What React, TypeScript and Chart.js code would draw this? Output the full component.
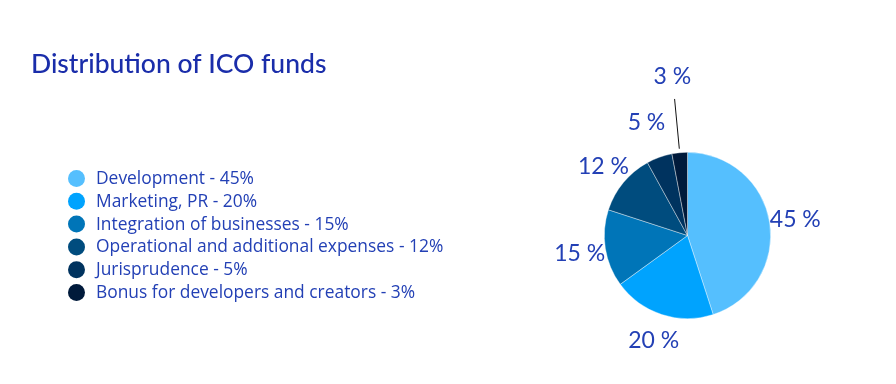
import React, { useEffect, useRef } from "react";
import { Chart, registerables } from "chart.js";

Chart.register(...registerables);

const TITLE = "Distribution of ICO funds";
const categories = [
  "Development",
  "Marketing, PR",
  "Integration of businesses",
  "Operational and additional expenses",
  "Jurisprudence",
  "Bonus for developers and creators",
];
const shares = [45, 20, 15, 12, 5, 3];
const sliceColors = ["#55BFFE", "#00A3FE", "#0075B8", "#004C7E", "#00335F", "#001A3B"];

const FONT = "Lato, 'Open Sans', sans-serif";
const LEGEND_FONT = "'Open Sans', Lato, sans-serif";
const TEXT_COLOR = "#2340B5";
const TITLE_COLOR = "#1A2DAA";

const overlayPlugin = {
  id: "overlay",
  afterDraw(chart: any) {
    const ctx = chart.ctx;
    const labels = chart.data.labels as string[];
    const values = chart.data.datasets[0].data as number[];
    const colors = chart.data.datasets[0].backgroundColor as string[];
    ctx.save();
    // Title
    ctx.fillStyle = TITLE_COLOR;
    ctx.font = `500 26.5px ${FONT}`;
    ctx.textAlign = "left";
    ctx.textBaseline = "alphabetic";
    ctx.fillText(TITLE, 31, 73);

    // Legend
    const legendTop = 178.5;
    const step = 22.8;
    ctx.font = `17.4px ${LEGEND_FONT}`;
    ctx.textBaseline = "middle";
    labels.forEach((lab, i) => {
      const y = legendTop + i * step;
      ctx.beginPath();
      ctx.fillStyle = colors[i];
      ctx.arc(76.5, y, 8.5, 0, Math.PI * 2);
      ctx.fill();
      ctx.fillStyle = TEXT_COLOR;
      ctx.fillText(`${lab} - ${values[i]}%`, 96, y + 0.5);
    });

    // Slice labels
    const meta = chart.getDatasetMeta(0);
    const offsets = [26, 26, 26, 26, 38, 77];
    ctx.font = `23px ${FONT}`;
    ctx.textAlign = "center";
    meta.data.forEach((arc: any, i: number) => {
      const { x, y, startAngle, endAngle, outerRadius } = arc.getProps(
        ["x", "y", "startAngle", "endAngle", "outerRadius"],
        true
      );
      const mid = (startAngle + endAngle) / 2;
      const d = outerRadius + offsets[i];
      const lx = x + Math.cos(mid) * d;
      const ly = y + Math.sin(mid) * d;
      if (offsets[i] > 60) {
        ctx.beginPath();
        ctx.strokeStyle = "#111";
        ctx.lineWidth = 1;
        ctx.moveTo(x + Math.cos(mid) * (outerRadius + 4), y + Math.sin(mid) * (outerRadius + 4));
        ctx.lineTo(x + Math.cos(mid) * (outerRadius + 54), y + Math.sin(mid) * (outerRadius + 54));
        ctx.stroke();
      }
      ctx.fillStyle = TEXT_COLOR;
      ctx.fillText(`${values[i]} %`, lx, ly + 1);
    });
    ctx.restore();
  },
};

export default function App() {
  const ref = useRef<HTMLCanvasElement>(null);
  useEffect(() => {
    document.body.style.margin = "0";
    const chart = new Chart(ref.current!, {
      type: "pie",
      data: {
        labels: categories,
        datasets: [
          {
            data: shares,
            backgroundColor: sliceColors,
            borderColor: "rgba(255,255,255,0.55)",
            borderWidth: 0.7,
          },
        ],
      },
      options: {
        responsive: false,
        animation: false,
        layout: { padding: { left: 604, right: 125, top: 152, bottom: 65 } },
        plugins: {
          legend: { display: false },
          tooltip: { enabled: false },
          title: { display: false },
        },
      },
      plugins: [overlayPlugin],
    });
    return () => chart.destroy();
  }, []);
  return (
    <div style={{ position: "absolute", left: 0, top: 0, width: 896, height: 384, background: "#fff" }}>
      <canvas ref={ref} width={896} height={384} />
    </div>
  );
}
